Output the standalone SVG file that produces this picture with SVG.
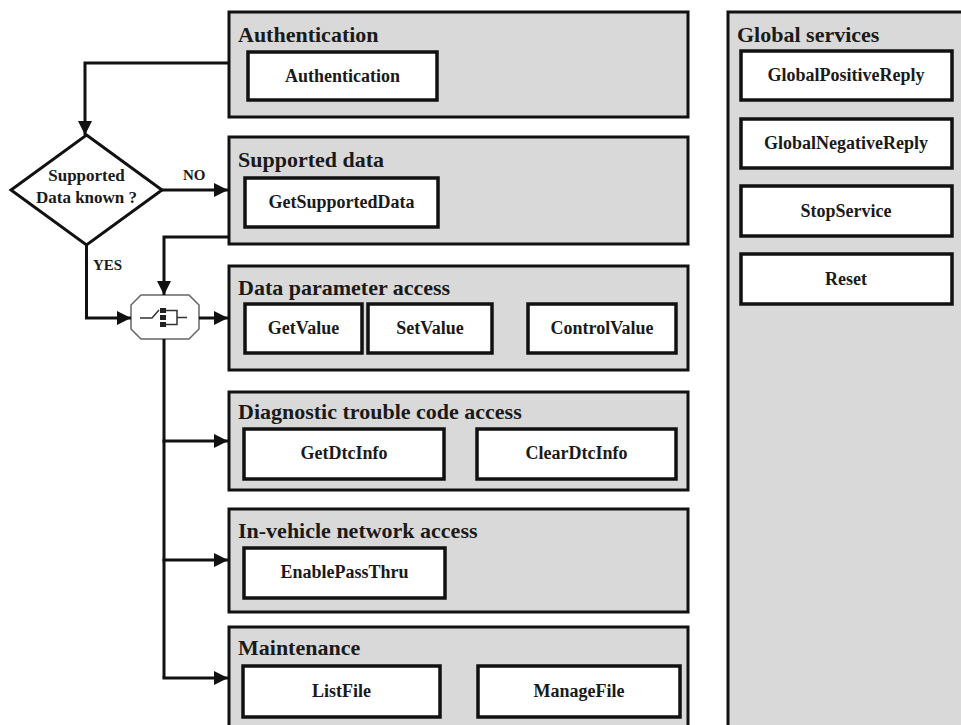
<svg xmlns="http://www.w3.org/2000/svg" width="961" height="725" viewBox="0 0 961 725">
<style>
.panel{fill:#d9d9d9;stroke:#111;stroke-width:3}
.box{fill:#fff;stroke:#111;stroke-width:3.5}
.title{font-family:"Liberation Serif",serif;font-weight:bold;font-size:22px;fill:#1a1a1a}
.lbl{font-family:"Liberation Serif",serif;font-weight:bold;font-size:18px;fill:#1a1a1a;text-anchor:middle}
.small{font-family:"Liberation Serif",serif;font-weight:bold;font-size:15px;fill:#1a1a1a}
.dtext{font-family:"Liberation Serif",serif;font-weight:bold;font-size:17px;fill:#1a1a1a;text-anchor:middle}
.conn{fill:none;stroke:#111;stroke-width:3}
</style>
<defs>
<marker id="arr" markerUnits="userSpaceOnUse" markerWidth="16" markerHeight="16" refX="14" refY="8" orient="auto">
<path d="M0,1 L14,8 L0,15 Z" fill="#111"/>
</marker>
</defs>
<rect width="961" height="725" fill="#fff"/>

<g id="global-services">
<rect class="panel" x="728" y="12" width="240" height="730"/>
<text class="title" x="737" y="42">Global services</text>
<rect class="box" x="741" y="51" width="211" height="49"/>
<text class="lbl" x="846" y="81">GlobalPositiveReply</text>
<rect class="box" x="741" y="119" width="211" height="49"/>
<text class="lbl" x="846" y="149">GlobalNegativeReply</text>
<rect class="box" x="741" y="186" width="211" height="50"/>
<text class="lbl" x="846" y="217">StopService</text>
<rect class="box" x="741" y="254" width="211" height="50"/>
<text class="lbl" x="846" y="285">Reset</text>
</g>

<g id="authentication">
<rect class="panel" x="229" y="12" width="459" height="105"/>
<text class="title" x="238" y="42">Authentication</text>
<rect class="box" x="248" y="52" width="189" height="48"/>
<text class="lbl" x="342.5" y="82">Authentication</text>
</g>

<g id="supported-data">
<rect class="panel" x="229" y="137" width="459" height="107"/>
<text class="title" x="238" y="167">Supported data</text>
<rect class="box" x="245" y="178" width="193" height="49"/>
<text class="lbl" x="341.5" y="208">GetSupportedData</text>
</g>

<g id="data-parameter-access">
<rect class="panel" x="229" y="266" width="459" height="104"/>
<text class="title" x="238" y="295">Data parameter access</text>
<rect class="box" x="245" y="304" width="117" height="49"/>
<text class="lbl" x="303.5" y="334">GetValue</text>
<rect class="box" x="368" y="304" width="124" height="49"/>
<text class="lbl" x="430" y="334">SetValue</text>
<rect class="box" x="528" y="304" width="148" height="49"/>
<text class="lbl" x="602" y="334">ControlValue</text>
</g>

<g id="dtc-access">
<rect class="panel" x="229" y="392" width="459" height="98"/>
<text class="title" x="238" y="419">Diagnostic trouble code access</text>
<rect class="box" x="244" y="429" width="200" height="50"/>
<text class="lbl" x="344" y="459">GetDtcInfo</text>
<rect class="box" x="477" y="429" width="199" height="50"/>
<text class="lbl" x="576.5" y="459">ClearDtcInfo</text>
</g>

<g id="in-vehicle-network-access">
<rect class="panel" x="229" y="509" width="459" height="103"/>
<text class="title" x="238" y="538">In-vehicle network access</text>
<rect class="box" x="244" y="548" width="201" height="50"/>
<text class="lbl" x="344.5" y="578">EnablePassThru</text>
</g>

<g id="maintenance">
<rect class="panel" x="229" y="627" width="459" height="120"/>
<text class="title" x="238" y="655">Maintenance</text>
<rect class="box" x="243" y="666" width="197" height="51"/>
<text class="lbl" x="341.5" y="697">ListFile</text>
<rect class="box" x="478" y="666" width="202" height="51"/>
<text class="lbl" x="579" y="697">ManageFile</text>
</g>

<g id="decision">
<polygon points="86.5,135 162,190 86.5,245 11,190" fill="#fff" stroke="#111" stroke-width="3"/>
<text class="dtext" x="86.5" y="181">Supported</text>
<text class="dtext" x="86.5" y="203">Data known ?</text>
</g>

<g id="switch">
<polygon points="141,295 189,295 199,305 199,329 189,339 141,339 131,329 131,305" fill="#fff" stroke="#666" stroke-width="1.5"/>
<path d="M140,318 H152 L159,310" fill="none" stroke="#333" stroke-width="1.5"/>
<rect x="160" y="308" width="6" height="5" fill="#222"/>
<rect x="160" y="315" width="6" height="5" fill="#222"/>
<rect x="160" y="322" width="6" height="5" fill="#222"/>
<path d="M166,310.5 H177 V324.5 H166 M177,317.5 H187" fill="none" stroke="#333" stroke-width="1.5"/>
</g>

<g id="connectors">
<path class="conn" d="M229,63 H85 V135" marker-end="url(#arr)"/>
<path class="conn" d="M162,190 H228" marker-end="url(#arr)"/>
<path class="conn" d="M229,237 H164 V295" marker-end="url(#arr)"/>
<path class="conn" d="M86.5,245 V318 H131" marker-end="url(#arr)"/>
<path class="conn" d="M199,318 H228" marker-end="url(#arr)"/>
<path class="conn" d="M164,339 V678"/>
<path class="conn" d="M162.5,441 H228" marker-end="url(#arr)"/>
<path class="conn" d="M162.5,560 H228" marker-end="url(#arr)"/>
<path class="conn" d="M162.5,678 H228" marker-end="url(#arr)"/>
<text class="small" x="183" y="180">NO</text>
<text class="small" x="93" y="270">YES</text>
</g>
</svg>
